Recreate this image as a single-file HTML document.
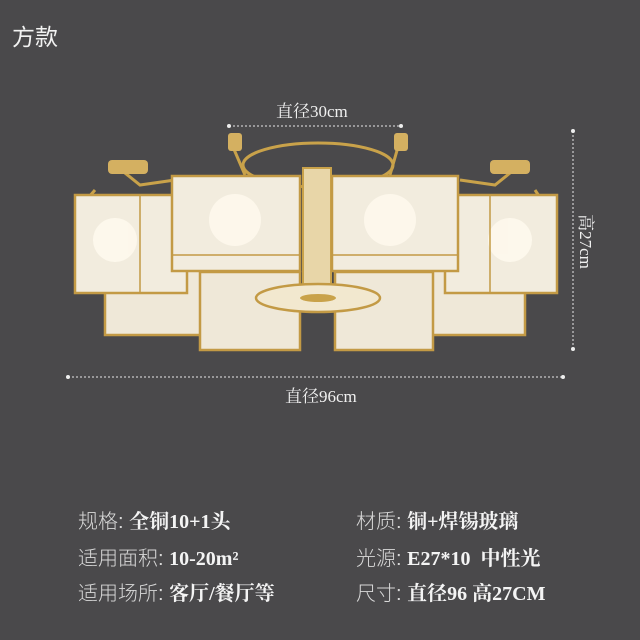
<!DOCTYPE html>
<html><head><meta charset="utf-8"><style>
html,body{margin:0;padding:0}
body{width:640px;height:640px;background:#4a494b;position:relative;overflow:hidden;font-family:"Liberation Serif","Noto Serif CJK SC",serif;color:#fff}
.t{position:absolute;white-space:nowrap}
.l{font-family:"Liberation Sans","Noto Sans CJK SC",sans-serif;color:#d9d9d9;font-weight:300}
.v{font-weight:bold;color:#f4f4f4}
.row{position:absolute;font-size:20px;line-height:22px;white-space:nowrap}
</style></head><body>
<div class="t" style="left:12px;top:18px;font-size:23px;font-family:'Liberation Sans','Noto Sans CJK SC',sans-serif;color:#f2f2f2">方款</div>
<div class="t" style="left:276px;top:97px;font-size:17px;color:#f0f0f0">直径30cm</div>
<div class="t" style="left:285px;top:382px;font-size:17px;color:#f0f0f0">直径96cm</div>
<div class="t" style="left:560px;top:229px;font-size:17px;color:#f0f0f0;transform:rotate(90deg);transform-origin:center">高27cm</div>
<svg width="640" height="640" style="position:absolute;left:0;top:0">
<g stroke="#e8e8e8" stroke-width="1" stroke-dasharray="2,2" fill="#eee">
<line x1="229" y1="126" x2="401" y2="126"/>
<line x1="68" y1="377" x2="563" y2="377"/>
<line x1="573" y1="131" x2="573" y2="349"/>
</g>
<g fill="#eee"><circle cx="229" cy="126" r="2"/><circle cx="401" cy="126" r="2"/><circle cx="68" cy="377" r="2"/><circle cx="563" cy="377" r="2"/><circle cx="573" cy="131" r="2"/><circle cx="573" cy="349" r="2"/></g>
<g stroke="#c9a24a" stroke-width="3" fill="none">
<ellipse cx="318" cy="165" rx="75" ry="22"/>
<path d="M230 140 L245 175 M400 140 L390 175 M115 165 L140 185 L175 180 M520 165 L495 185 L460 180 M82 205 L95 190 M545 205 L535 190"/>
</g>
<g fill="#d4b061"><rect x="228" y="133" width="14" height="18" rx="3"/><rect x="394" y="133" width="14" height="18" rx="3"/><rect x="108" y="160" width="40" height="14" rx="4"/><rect x="490" y="160" width="40" height="14" rx="4"/></g>
<rect x="303" y="168" width="28" height="120" fill="#e8d6a8" stroke="#c9a24a" stroke-width="2"/>
<g stroke="#c39a45" stroke-width="2.5" fill="#efe8d8">
<rect x="105" y="265" width="105" height="70"/>
<rect x="420" y="265" width="105" height="70"/>
<rect x="200" y="272" width="100" height="78"/>
<rect x="335" y="272" width="98" height="78"/>
</g>
<ellipse cx="318" cy="298" rx="62" ry="14" fill="#f2e8cf" stroke="#c39a45" stroke-width="2.5"/>
<ellipse cx="318" cy="298" rx="18" ry="4" fill="#c9a24a"/>
<g stroke="#c39a45" stroke-width="2.5" fill="#f2ecde">
<rect x="75" y="195" width="112" height="98"/>
<rect x="445" y="195" width="112" height="98"/>
<rect x="172" y="176" width="128" height="95"/>
<rect x="332" y="176" width="126" height="95"/>
</g>
<g fill="#fffaee" opacity="0.85"><circle cx="115" cy="240" r="22"/><circle cx="235" cy="220" r="26"/><circle cx="390" cy="220" r="26"/><circle cx="510" cy="240" r="22"/></g>
<g stroke="#c39a45" stroke-width="1.5"><line x1="140" y1="195" x2="140" y2="293"/><line x1="490" y1="195" x2="490" y2="293"/><line x1="172" y1="255" x2="300" y2="255"/><line x1="332" y1="255" x2="458" y2="255"/></g>
</svg>
<div class="row" style="left:78px;top:511px"><span class="l">规格: </span><span class="v">全铜10+1头</span></div>
<div class="row" style="left:78px;top:548px"><span class="l">适用面积: </span><span class="v">10-20m²</span></div>
<div class="row" style="left:78px;top:583px"><span class="l">适用场所: </span><span class="v">客厅/餐厅等</span></div>
<div class="row" style="left:356px;top:511px"><span class="l">材质: </span><span class="v">铜+焊锡玻璃</span></div>
<div class="row" style="left:356px;top:548px"><span class="l">光源: </span><span class="v">E27*10&nbsp; 中性光</span></div>
<div class="row" style="left:356px;top:583px"><span class="l">尺寸: </span><span class="v">直径96 高27CM</span></div>
</body></html>
